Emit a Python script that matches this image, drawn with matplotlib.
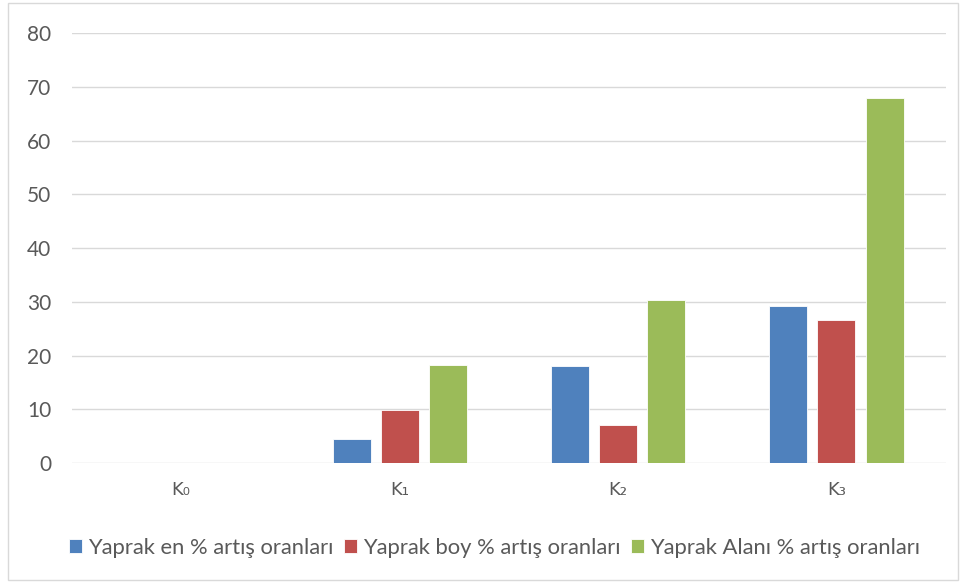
import matplotlib
matplotlib.use("Agg")
import matplotlib.pyplot as plt
from matplotlib.patches import Rectangle
import numpy as np

categories = ["K₀", "K₁", "K₂", "K₃"]
series_names = ["Yaprak en % artış oranları", "Yaprak boy % artış oranları", "Yaprak Alanı % artış oranları"]
en_vals = [0, 4.4, 18.0, 29.3]
boy_vals = [0, 9.9, 7.0, 26.6]
alan_vals = [0, 18.2, 30.4, 67.9]
colors = ["#4F81BD", "#C0504D", "#9BBB59"]
yticks = [0, 10, 20, 30, 40, 50, 60, 70, 80]

plt.rcParams['font.family'] = ['Lato', 'DejaVu Sans']

fig = plt.figure(figsize=(9.66, 5.85), dpi=100)
ax = fig.add_axes([0.0745, 0.2085, 0.9045, 0.7351])

x = np.arange(len(categories))
width = 0.174
step = 0.22
for i, (vals, name, c) in enumerate(zip([en_vals, boy_vals, alan_vals], series_names, colors)):
    ax.bar(x + (i - 1) * step, vals, width, color=c, label=name, edgecolor="white", linewidth=0.6, zorder=3)

ax.set_xlim(-0.5, 3.5)
ax.set_ylim(0, 80)
ax.set_yticks(yticks)
ax.yaxis.grid(True, color="#D9D9D9", linewidth=1.0, zorder=0)
ax.set_xticks(x)
ax.set_xticklabels(categories, family=['DejaVu Sans'])
for s in ax.spines.values():
    s.set_visible(False)
ax.tick_params(axis="y", length=0, pad=15, labelsize=15, labelcolor="#595959")
ax.tick_params(axis="x", length=0, pad=13, labelsize=13, labelcolor="#595959")

leg = fig.legend(loc="center", bbox_to_anchor=(0.512, 0.063), ncol=3, frameon=False,
                 fontsize=15.8, handlelength=0.6, handleheight=0.6, handletextpad=0.25,
                 columnspacing=0.5)
for t in leg.get_texts():
    t.set_color("#595959")

fig.patches.append(Rectangle((8/966, 1 - 580/585), 950/966, 577/585, transform=fig.transFigure,
                             fill=False, edgecolor="#D9D9D9", linewidth=1.0))

fig.savefig("out.png", dpi=100)
